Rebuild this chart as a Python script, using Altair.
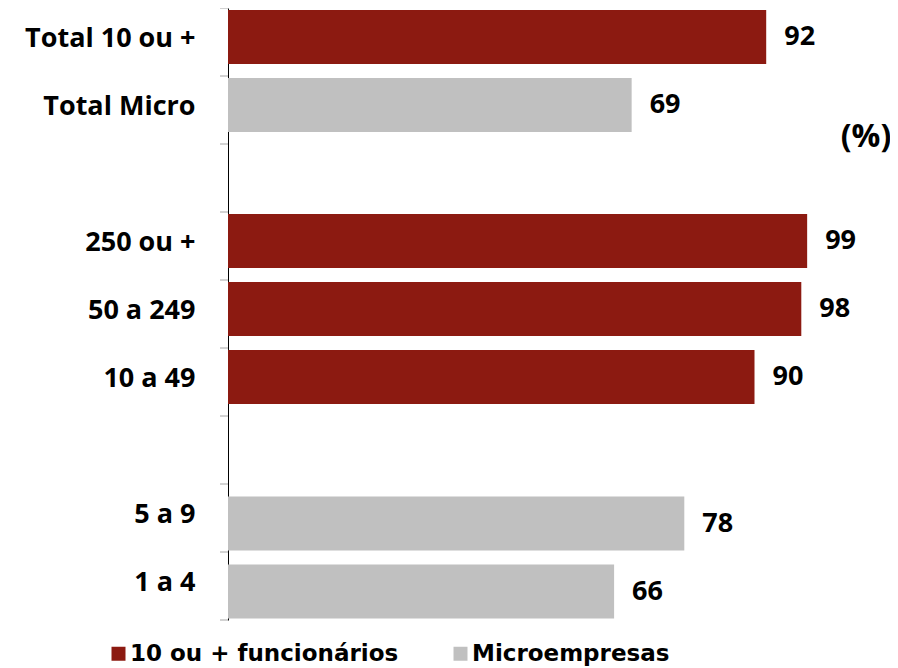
import altair as alt
import pandas as pd

categorias = ["Total 10 ou +", "Total Micro", " ", "250 ou +", "50 a 249", "10 a 49", "  ", "5 a 9", "1 a 4"]
barras = ["Total 10 ou +", "Total Micro", "250 ou +", "50 a 249", "10 a 49", "5 a 9", "1 a 4"]
valores = [92, 69, 99, 98, 90, 78, 66]
grupos = ["10 ou + funcionários", "Microempresas", "10 ou + funcionários", "10 ou + funcionários",
          "10 ou + funcionários", "Microempresas", "Microempresas"]
series = ["10 ou + funcionários", "Microempresas"]
cores = ["#8C1A11", "#C0C0C0"]

df = pd.DataFrame({"cat": barras, "valor": valores, "grupo": grupos})
df_ticks = pd.DataFrame({"cat": categorias})

yscale = alt.Scale(domain=categorias, paddingInner=0, paddingOuter=0)
xscale = alt.Scale(domain=[0, 100])


def yaxis():
    return alt.Axis(title=None, ticks=False, domain=True, domainColor="#000000", domainWidth=1,
                    labelFont="Open Sans", labelFontWeight="bold", labelFontSize=27, labelColor="#000000",
                    labelPadding=33, labelOffset=-3, grid=False, labelLimit=300)


color = alt.Color("grupo:N", scale=alt.Scale(domain=series, range=cores),
                  legend=alt.Legend(title=None, orient="none", legendX=-121, legendY=634,
                                    direction="horizontal", symbolType="square",
                                    symbolSize=196, symbolStrokeWidth=0, labelFont="DejaVu Sans",
                                    labelFontWeight="bold", labelFontSize=23, labelColor="#000000",
                                    labelOffset=0, columnPadding=50, labelLimit=400))

f_baixo = "datum.cat == '5 a 9' || datum.cat == '1 a 4'"
f_cima = "!(datum.cat == '5 a 9' || datum.cat == '1 a 4')"


def bar_layer(flt, off):
    b = alt.Chart(df).transform_filter(flt).mark_bar(size=54, yOffset=off).encode(
        y=alt.Y("cat:N", scale=yscale, axis=yaxis()),
        x=alt.X("valor:Q", scale=xscale, axis=None),
        color=color,
    )
    t = alt.Chart(df).transform_filter(flt).mark_text(align="left", baseline="middle", dx=18, dy=off,
                                                      font="Open Sans", fontWeight="bold", fontSize=27,
                                                      color="#000000").encode(
        y=alt.Y("cat:N", scale=yscale, axis=yaxis()),
        x=alt.X("valor:Q", scale=xscale, axis=None),
        text="valor:Q",
    )
    return [b, t]


layers = bar_layer(f_cima, -5) + bar_layer(f_baixo, 5.5)

ticks0 = alt.Chart(df_ticks).mark_rule(color="#A6A6A6", strokeWidth=1, yOffset=-34).encode(
    y=alt.Y("cat:N", scale=yscale, axis=yaxis()),
    x=alt.value(-8), x2=alt.value(0))
ticks1 = alt.Chart(df_ticks).transform_filter("datum.cat == '1 a 4'").mark_rule(
    color="#A6A6A6", strokeWidth=1, yOffset=34).encode(
    y=alt.Y("cat:N", scale=yscale, axis=yaxis()),
    x=alt.value(-8), x2=alt.value(0))

pct = alt.Chart(pd.DataFrame({"t": ["(%)"]})).mark_text(
    font="Open Sans", fontWeight="bold", fontSize=32, color="#000000", align="center", baseline="middle"
).encode(text="t:N", x=alt.value(638), y=alt.value(129))

chart = alt.layer(*layers, ticks0, ticks1, pct).properties(
    width=585, height=612,
    autosize=alt.AutoSizeParams(type="none"),
    padding={"left": 220, "top": 0, "right": 77, "bottom": 48},
).configure_view(stroke=None)

chart.save("out.html", embed_options={"renderer": "svg", "actions": False})
